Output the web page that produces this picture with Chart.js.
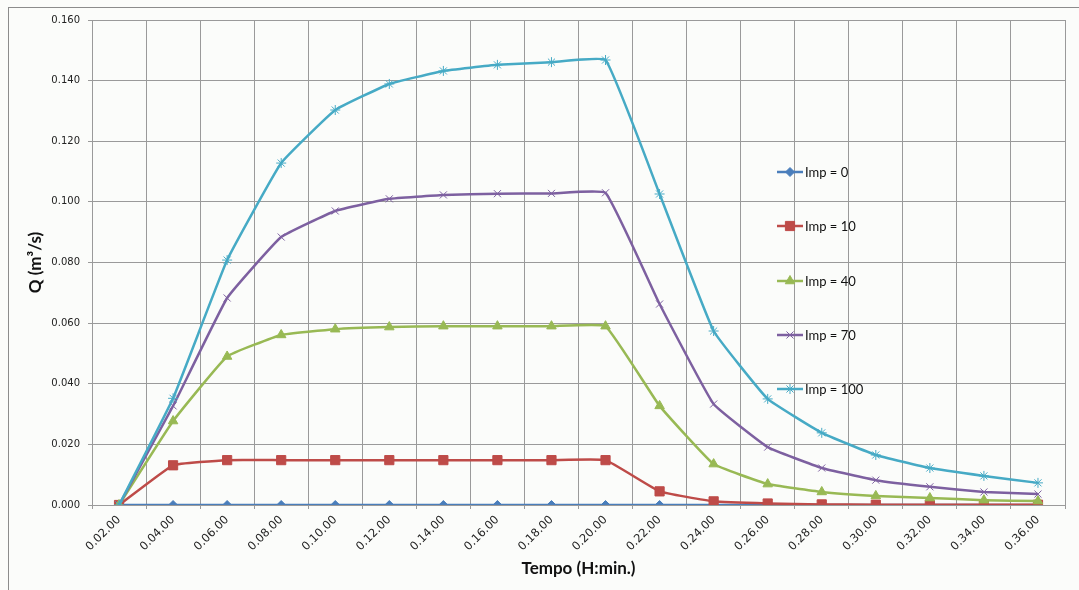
<!DOCTYPE html>
<html>
<head>
<meta charset="utf-8">
<script src="https://cdn.jsdelivr.net/npm/chart.js@4.4.1/dist/chart.umd.min.js"></script>
<style>
  html, body { margin: 0; padding: 0; background: #ffffff; }
  #wrap { position: relative; width: 1079px; height: 590px; background: #fbfcfa; }
  #frame { position: absolute; left: 8px; top: 7px; right: -2px; bottom: -2px; border: 1px solid #8c8c8c; }
  #legend { position: absolute; left: 777px; top: 163px; font-family: Lato, "Open Sans", sans-serif; font-size: 13px; color: #111; }
  .item { position: relative; height: 54.3px; width: 110px; }
  .item canvas { position: absolute; left: 0; top: 0; }
  .item span { position: absolute; left: 28px; top: 0px; line-height: 18px; white-space: nowrap; }
</style>
</head>
<body>
<div id="wrap">
  <div id="frame"></div>
  <canvas id="chart" width="1079" height="590"></canvas>
  <div id="legend"></div>
</div>
<script>
const labels = ["0.02.00","0.04.00","0.06.00","0.08.00","0.10.00","0.12.00","0.14.00","0.16.00","0.18.00",
  "0.20.00","0.22.00","0.24.00","0.26.00","0.28.00","0.30.00","0.32.00","0.34.00","0.36.00"];

const imp0   = [0,0,0,0,0,0,0,0,0,0,0,0,0,0,0,0,0,0];
const imp10  = [0,0.0131,0.0148,0.0148,0.0148,0.0148,0.0148,0.0148,0.0148,0.0148,0.0045,0.0012,0.0005,0.0002,0.0001,0.0001,0.0001,0.0001];
const imp40  = [0,0.0277,0.0490,0.0561,0.0580,0.0587,0.0590,0.0590,0.0590,0.0590,0.0327,0.0135,0.0069,0.0043,0.0030,0.0023,0.0016,0.0013];
const imp70  = [0,0.0327,0.0683,0.0884,0.0970,0.1010,0.1023,0.1027,0.1028,0.1030,0.0663,0.0333,0.0191,0.0122,0.0082,0.0060,0.0043,0.0036];
const imp100 = [0,0.0352,0.0808,0.1128,0.1303,0.1389,0.1432,0.1452,0.1461,0.1468,0.1026,0.0574,0.0350,0.0238,0.0165,0.0122,0.0096,0.0073];

const series = [
  { label: "Imp = 0",   data: imp0,   color: "#4a7ebb", style: "rectRot",  r: 4.5 },
  { label: "Imp = 10",  data: imp10,  color: "#be4b48", style: "rect",     r: 6.5 },
  { label: "Imp = 40",  data: imp40,  color: "#98b954", style: "triangle", r: 5.5 },
  { label: "Imp = 70",  data: imp70,  color: "#7d60a0", style: "crossRot", r: 5 },
  { label: "Imp = 100", data: imp100, color: "#46aac5", style: "star",     r: 5 }
];

const tickFont = { family: "'DejaVu Sans', sans-serif", size: 10 };

new Chart(document.getElementById("chart"), {
  type: "line",
  data: {
    labels,
    datasets: series.map((s, i) => ({
      label: s.label,
      data: s.data,
      borderColor: s.color,
      backgroundColor: s.color,
      borderWidth: 2.5,
      pointStyle: s.style,
      pointRadius: s.r,
      pointBorderWidth: 1,
      tension: 0.1,
      order: series.length - i
    }))
  },
  options: {
    responsive: false,
    animation: false,
    layout: { padding: { left: 0, top: 20, right: 14, bottom: 0 } },
    plugins: { legend: { display: false }, tooltip: { enabled: false } },
    scales: {
      x: {
        offset: true,
        grid: { offset: true, color: "#9a9a9a", lineWidth: 1, drawTicks: true, tickLength: 4 },
        border: { color: "#9a9a9a" },
        ticks: { font: { family: "'DejaVu Sans', sans-serif", size: 11.5 }, color: "#222", minRotation: 45, maxRotation: 45, padding: 4 },
        title: { display: true, text: "Tempo (H:min.)", font: { family: "Lato, sans-serif", size: 17, weight: "bold" }, color: "#111", padding: { top: 4, bottom: 11 } },
        afterFit: (a) => { a.height = 85; }
      },
      y: {
        min: 0, max: 0.16,
        grid: { color: "#9a9a9a", lineWidth: 1, tickLength: 4 },
        border: { color: "#9a9a9a" },
        ticks: { font: tickFont, color: "#222", stepSize: 0.02, padding: 8, callback: (v) => v.toFixed(3) },
        title: { display: true, text: "Q (m³/s)", font: { family: "Lato, sans-serif", size: 17, weight: "bold" }, color: "#111", padding: { top: 25 } },
        afterFit: (a) => { a.width = 92; }
      }
    }
  },
  plugins: [{
    id: "plotBorder",
    afterDraw(chart) {
      const { ctx, chartArea: a } = chart;
      ctx.save();
      ctx.strokeStyle = "#9a9a9a";
      ctx.lineWidth = 1;
      ctx.strokeRect(Math.round(a.left) + 0.5, Math.round(a.top) + 0.5, Math.round(a.right - a.left), Math.round(a.bottom - a.top));
      ctx.restore();
    }
  }]
});

// legend drawn as html rows with a small canvas sample
const legend = document.getElementById("legend");
series.forEach((s) => {
  const row = document.createElement("div");
  row.className = "item";
  const c = document.createElement("canvas");
  c.width = 28; c.height = 18;
  const g = c.getContext("2d");
  g.strokeStyle = s.color; g.lineWidth = 2.5;
  g.beginPath(); g.moveTo(0, 9); g.lineTo(26, 9); g.stroke();
  g.fillStyle = s.color; g.lineWidth = 1;
  Chart.helpers.drawPoint(g, { pointStyle: s.style, radius: s.r, rotation: 0, borderWidth: 1 }, 13, 9);
  const t = document.createElement("span");
  t.textContent = s.label;
  row.appendChild(c); row.appendChild(t);
  legend.appendChild(row);
});
</script>
</body>
</html>
